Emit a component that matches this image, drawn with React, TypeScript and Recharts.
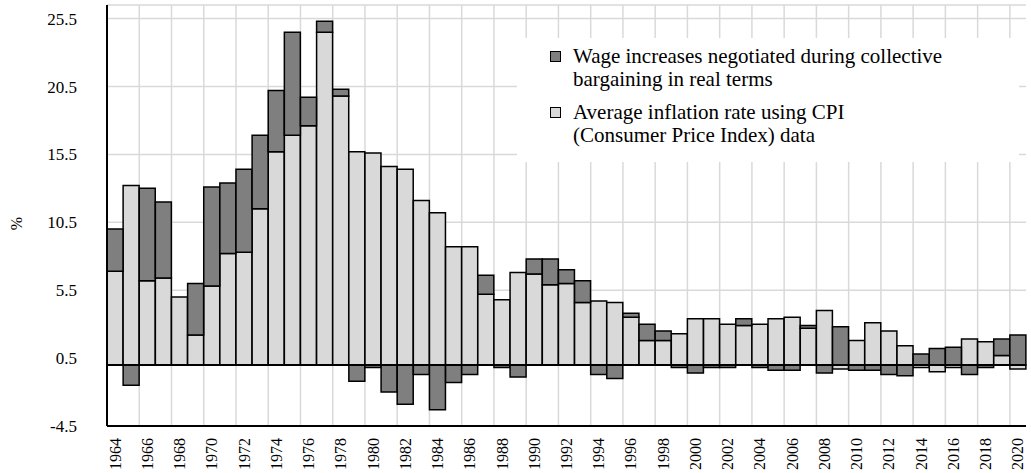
import React from 'react';
import { BarChart, Bar, XAxis, YAxis, CartesianGrid, Legend, ReferenceLine } from 'recharts';

const FONT = "'Liberation Serif', Tinos, 'Times New Roman', Times, 'DejaVu Serif', serif";

const years = [
  1964, 1965, 1966, 1967, 1968, 1969, 1970, 1971, 1972, 1973,
  1974, 1975, 1976, 1977, 1978, 1979, 1980, 1981, 1982, 1983,
  1984, 1985, 1986, 1987, 1988, 1989, 1990, 1991, 1992, 1993,
  1994, 1995, 1996, 1997, 1998, 1999, 2000, 2001, 2002, 2003,
  2004, 2005, 2006, 2007, 2008, 2009, 2010, 2011, 2012, 2013,
  2014, 2015, 2016, 2017, 2018, 2019, 2020,
];

// average CPI inflation (%)
const inflation = [
  6.9, 13.2, 6.2, 6.4, 5.0, 2.2, 5.8, 8.2, 8.3, 11.5,
  15.7, 16.9, 17.6, 24.5, 19.8, 15.7, 15.6, 14.6, 14.4, 12.1,
  11.2, 8.7, 8.7, 5.2, 4.8, 6.8, 6.7, 5.9, 6.0, 4.6,
  4.7, 4.6, 3.5, 1.8, 1.8, 2.3, 3.4, 3.4, 3.0, 2.9,
  3.0, 3.4, 3.5, 2.7, 4.0, -0.3, 1.8, 3.1, 2.5, 1.4,
  -0.2, -0.5, -0.2, 1.9, 1.7, 0.7, -0.3,
];

// negotiated wage increase in real terms (%)
const wageReal = [
  3.1, -1.5, 6.8, 5.6, 0.0, 3.8, 7.3, 5.2, 6.1, 5.4,
  4.5, 7.6, 2.1, 0.8, 0.5, -1.2, -0.2, -2.0, -2.9, -0.7,
  -3.3, -1.3, -0.7, 1.4, -0.2, -0.9, 1.1, 1.9, 1.0, 1.6,
  -0.7, -1.0, 0.3, 1.2, 0.7, -0.2, -0.6, -0.2, -0.2, 0.5,
  -0.2, -0.4, -0.4, 0.2, -0.6, 2.8, -0.4, -0.4, -0.7, -0.8,
  0.8, 1.2, 1.3, -0.7, -0.2, 1.2, 2.2,
];

const yTicks = [-4.5, 0.5, 5.5, 10.5, 15.5, 20.5, 25.5];

const WAGE_COLOR = '#7f7f7f';
const CPI_COLOR = '#d9d9d9';

const legendItems = [
  { name: 'Wage increases negotiated during collective\nbargaining in real terms', color: WAGE_COLOR },
  { name: 'Average inflation rate using CPI\n(Consumer Price Index) data', color: CPI_COLOR },
];

const data = years.map((year, i) => ({
  year: String(year),
  inflation: inflation[i],
  wage: wageReal[i],
}));

// grid lines sit on the band edge before every even year
const gridBetweenYears = ({ offset }: any) => {
  const band = offset.width / years.length;
  const xs: number[] = [];
  for (let i = 2; i < years.length; i += 2) xs.push(offset.left + band * i);
  return xs;
};

const YearTick = ({ x, y, payload }: any) => (
  <text
    x={x}
    y={y}
    transform={`rotate(-90 ${x} ${y})`}
    textAnchor="end"
    dominantBaseline="central"
    style={{ fontFamily: FONT, fontSize: 16 }}
    fill="#000"
  >
    {payload.value}
  </text>
);

const PercentLabel = ({ viewBox }: any) => {
  const x = viewBox.x + 16;
  const y = viewBox.y + viewBox.height / 2 + 8;
  return (
    <text
      x={x}
      y={y}
      transform={`rotate(-90 ${x} ${y})`}
      textAnchor="middle"
      dominantBaseline="central"
      style={{ fontFamily: FONT, fontSize: 16 }}
      fill="#000"
    >
      %
    </text>
  );
};

const LegendBox = () => (
  <div
    style={{
      background: '#fff',
      width: '100%',
      height: '100%',
      boxSizing: 'border-box',
      padding: '7px 0 0 33px',
      fontFamily: FONT,
      fontSize: 21,
      lineHeight: '23px',
      color: '#000',
      textAlign: 'left',
    }}
  >
    {legendItems.map((it, i) => (
      <div key={i} style={{ display: 'flex', alignItems: 'flex-start', marginTop: i ? 10 : 0 }}>
        <span
          style={{
            width: 11,
            height: 11,
            boxSizing: 'border-box',
            border: '1.5px solid #000',
            background: it.color,
            marginTop: 6,
            marginRight: 12,
            flex: 'none',
          }}
        />
        <span style={{ whiteSpace: 'pre-line' }}>{it.name}</span>
      </div>
    ))}
  </div>
);

export default function App() {
  return (
    <div style={{ position: 'absolute', left: 0, top: 0, background: '#fff', fontFamily: FONT }}>
      <BarChart
        width={1031}
        height={473}
        data={data}
        stackOffset="sign"
        barCategoryGap={0}
        margin={{ top: 5, right: 5, bottom: 0, left: 0 }}
      >
        <CartesianGrid
          stroke="#d9d9d9"
          strokeWidth={1.5}
          verticalCoordinatesGenerator={gridBetweenYears}
        />
        <XAxis
          dataKey="year"
          interval={1}
          height={47}
          tickSize={0}
          tickMargin={12}
          tickLine={false}
          tick={<YearTick />}
          axisLine={{ stroke: '#000', strokeWidth: 2 }}
        />
        <XAxis
          xAxisId="top"
          dataKey="year"
          orientation="top"
          height={0}
          tick={false}
          tickLine={false}
          axisLine={{ stroke: '#000', strokeWidth: 2 }}
        />
        <YAxis
          type="number"
          domain={[-4.5, 26.5]}
          ticks={yTicks}
          width={107}
          tickSize={0}
          tickMargin={30}
          tickLine={false}
          tick={{ fill: '#000', fontSize: 17, style: { fontFamily: FONT } }}
          tickFormatter={(v: number) => v.toFixed(1)}
          axisLine={{ stroke: '#000', strokeWidth: 2 }}
          label={<PercentLabel />}
        />
        <YAxis
          yAxisId="right"
          orientation="right"
          type="number"
          domain={[0, 1]}
          width={0}
          tick={false}
          tickLine={false}
          axisLine={{ stroke: '#000', strokeWidth: 2 }}
        />
        <Legend
          layout="horizontal"
          verticalAlign="middle"
          align="center"
          wrapperStyle={{ left: 517, top: 38, width: 502, height: 124 }}
          content={<LegendBox />}
        />
        <Bar
          dataKey="inflation"
          name="Average inflation rate using CPI (Consumer Price Index) data"
          stackId="a"
          fill={CPI_COLOR}
          stroke="#000"
          strokeWidth={1.5}
          isAnimationActive={false}
        />
        <Bar
          dataKey="wage"
          name="Wage increases negotiated during collective bargaining in real terms"
          stackId="a"
          fill={WAGE_COLOR}
          stroke="#000"
          strokeWidth={1.5}
          isAnimationActive={false}
        />
        <ReferenceLine y={0} stroke="#000" strokeWidth={2} />
      </BarChart>
    </div>
  );
}
